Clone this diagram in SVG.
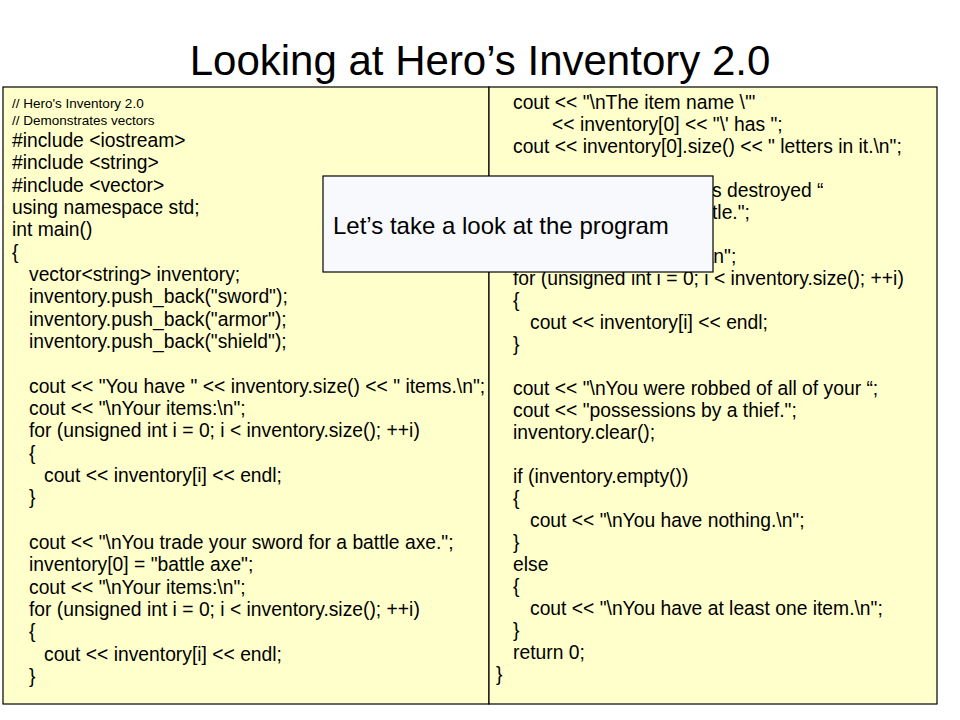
<svg xmlns="http://www.w3.org/2000/svg" width="960" height="720" viewBox="0 0 960 720">
<style>
.panel{fill:#FFFFCC;stroke:#000;stroke-width:1.2}
.code{font-family:"Liberation Sans",Arial,sans-serif;font-size:19.3px;fill:#000}
.cmt{font-family:"Liberation Sans",Arial,sans-serif;font-size:13.5px;fill:#000}
.title{font-family:"Liberation Sans",Arial,sans-serif;font-size:42px;fill:#000}
.callout{fill:#F7F9FC;stroke:#000;stroke-width:1.2}
.ctext{font-family:"Liberation Sans",Arial,sans-serif;font-size:24px;fill:#000}
</style>
<rect x="0" y="0" width="960" height="720" fill="#FFFFFF"/>
<g id="title">
<text class="title" x="480" y="75" text-anchor="middle">Looking at Hero’s Inventory 2.0</text>
</g>
<g id="left-panel">
<rect class="panel" x="3" y="87" width="486" height="617"/>
<text class="cmt" x="12" y="108">// Hero's Inventory 2.0</text>
<text class="cmt" x="12" y="125">// Demonstrates vectors</text>
<text class="code" x="12" y="147">#include &lt;iostream&gt;</text>
<text class="code" x="12" y="169.3">#include &lt;string&gt;</text>
<text class="code" x="12" y="191.7">#include &lt;vector&gt;</text>
<text class="code" x="12" y="214">using namespace std;</text>
<text class="code" x="12" y="236.3">int main()</text>
<text class="code" x="12" y="258.7">{</text>
<text class="code" x="29" y="281">vector&lt;string&gt; inventory;</text>
<text class="code" x="29" y="303.3">inventory.push_back("sword");</text>
<text class="code" x="29" y="325.7">inventory.push_back("armor");</text>
<text class="code" x="29" y="348">inventory.push_back("shield");</text>
<text class="code" x="29" y="392.7">cout &lt;&lt; "You have " &lt;&lt; inventory.size() &lt;&lt; " items.\n";</text>
<text class="code" x="29" y="415">cout &lt;&lt; "\nYour items:\n";</text>
<text class="code" x="29" y="437.3">for (unsigned int i = 0; i &lt; inventory.size(); ++i)</text>
<text class="code" x="29" y="459.7">{</text>
<text class="code" x="44" y="482">cout &lt;&lt; inventory[i] &lt;&lt; endl;</text>
<text class="code" x="29" y="504.3">}</text>
<text class="code" x="29" y="549">cout &lt;&lt; "\nYou trade your sword for a battle axe.";</text>
<text class="code" x="29" y="571.3">inventory[0] = "battle axe";</text>
<text class="code" x="29" y="593.7">cout &lt;&lt; "\nYour items:\n";</text>
<text class="code" x="29" y="616">for (unsigned int i = 0; i &lt; inventory.size(); ++i)</text>
<text class="code" x="29" y="638.3">{</text>
<text class="code" x="44" y="660.7">cout &lt;&lt; inventory[i] &lt;&lt; endl;</text>
<text class="code" x="29" y="683">}</text>
</g>
<g id="right-panel">
<rect class="panel" x="489" y="87" width="448" height="617"/>
<text class="code" x="513" y="109">cout &lt;&lt; "\nThe item name \'"</text>
<text class="code" x="552" y="131">&lt;&lt; inventory[0] &lt;&lt; "\' has ";</text>
<text class="code" x="513" y="153">cout &lt;&lt; inventory[0].size() &lt;&lt; " letters in it.\n";</text>
<text class="code" x="712" y="197">s destroyed “</text>
<text class="code" x="712" y="219">tle.";</text>
<text class="code" x="708" y="263">\n";</text>
<text class="code" x="513" y="285">for (unsigned int i = 0; i &lt; inventory.size(); ++i)</text>
<text class="code" x="513" y="307">{</text>
<text class="code" x="530" y="329">cout &lt;&lt; inventory[i] &lt;&lt; endl;</text>
<text class="code" x="513" y="351">}</text>
<text class="code" x="513" y="395">cout &lt;&lt; "\nYou were robbed of all of your “;</text>
<text class="code" x="513" y="417">cout &lt;&lt; "possessions by a thief.";</text>
<text class="code" x="513" y="439">inventory.clear();</text>
<text class="code" x="513" y="483">if (inventory.empty())</text>
<text class="code" x="513" y="505">{</text>
<text class="code" x="530" y="527">cout &lt;&lt; "\nYou have nothing.\n";</text>
<text class="code" x="513" y="549">}</text>
<text class="code" x="513" y="571">else</text>
<text class="code" x="513" y="593">{</text>
<text class="code" x="530" y="615">cout &lt;&lt; "\nYou have at least one item.\n";</text>
<text class="code" x="513" y="637">}</text>
<text class="code" x="513" y="659">return 0;</text>
<text class="code" x="496" y="681">}</text>
</g>
<g id="callout">
<rect class="callout" x="323" y="176" width="390" height="96"/>
<text class="ctext" x="333" y="234">Let’s take a look at the program</text>
</g>
</svg>
